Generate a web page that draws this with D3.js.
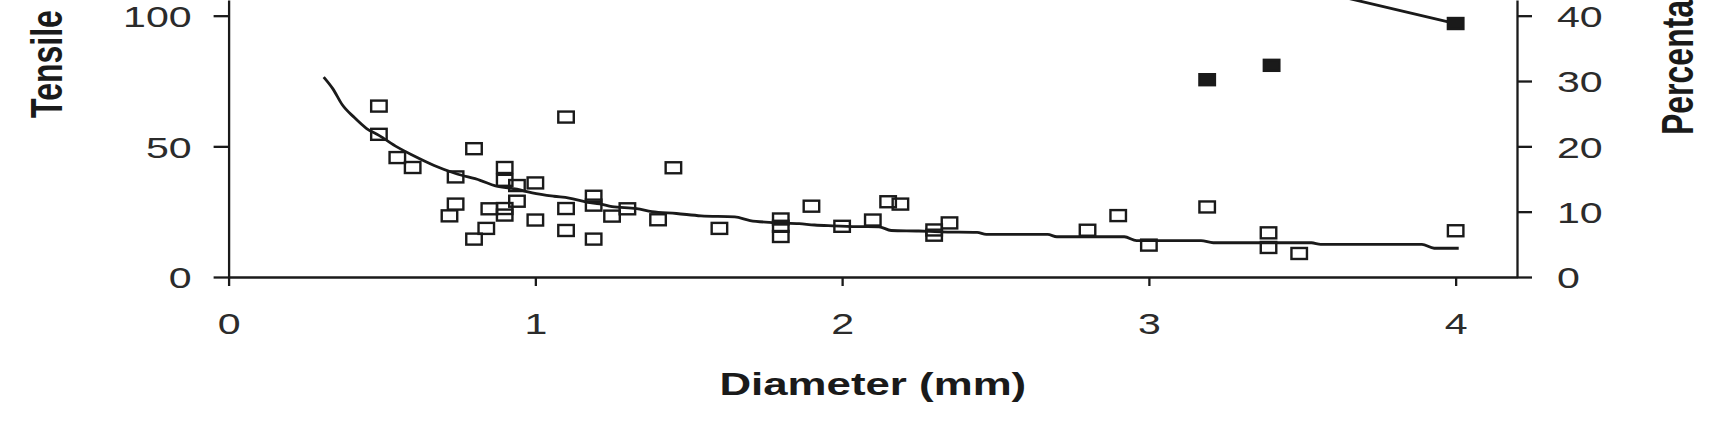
<!DOCTYPE html>
<html>
<head>
<meta charset="utf-8">
<script src="https://cdn.jsdelivr.net/npm/d3@7/dist/d3.min.js"></script>
<style>
  html, body { margin: 0; padding: 0; background: #fff; }
  svg { display: block; }
  text { font-family: "Liberation Sans", Arial, Helvetica, sans-serif; fill: #1a1a1a; }
</style>
</head>
<body>
<svg id="chart" width="1732" height="422"></svg>
<script>
// ---- data ----
const xTicks = [0, 1, 2, 3, 4];
const leftTicks = [0, 50, 100];
const rightTicks = [0, 10, 20, 30, 40];

// open squares: diameter (mm) vs tensile value (left axis)
const openD = [0.49, 0.49, 0.55, 0.60, 0.74, 0.74, 0.72, 0.80, 0.85, 0.84, 0.80,
  0.90, 0.90, 0.90, 0.90, 0.94, 0.94, 1.00, 1.00, 1.10, 1.10, 1.10, 1.19, 1.19, 1.19,
  1.25, 1.30, 1.40, 1.45, 1.60, 1.80, 1.80, 1.80, 1.90, 2.00, 2.10, 2.15, 2.19,
  2.30, 2.30, 2.35, 2.80, 2.90, 3.00, 3.19, 3.39, 3.39, 3.49, 4.00];
const openV = [65.4, 54.6, 45.7, 41.9, 38.3, 27.9, 23.4, 49.1, 26.1, 18.6, 14.5,
  41.9, 37.0, 26.2, 23.7, 35.0, 29.0, 36.0, 21.8, 61.2, 26.2, 17.8, 30.9, 27.5, 14.5,
  23.3, 26.1, 21.9, 41.8, 18.6, 22.2, 19.4, 15.5, 27.1, 19.4, 21.8, 28.8, 27.9,
  18.0, 16.0, 20.7, 17.9, 23.5, 12.2, 26.8, 16.9, 11.3, 9.0, 17.7];

// fitted tensile curve (left axis)
const curveD = [0.31, 0.34, 0.37, 0.41, 0.45, 0.49, 0.55, 0.60, 0.67, 0.74, 0.82, 0.87,
  0.94, 0.99, 1.06, 1.11, 1.17, 1.21, 1.25, 1.33, 1.38, 1.46, 1.54, 1.65, 1.70, 1.78,
  1.86, 1.91, 1.97, 2.05, 2.12, 2.16, 2.25, 2.32, 2.44, 2.47, 2.67, 2.70, 2.92, 2.96,
  3.17, 3.21, 3.53, 3.56, 3.89, 3.93, 4.01];
const curveV = [76.5, 72.0, 66.0, 61.0, 56.8, 54.2, 49.7, 46.6, 42.7, 39.6, 37.0, 34.9,
  33.6, 32.2, 30.9, 30.2, 28.6, 28.0, 26.9, 26.2, 25.0, 24.3, 23.4, 23.0, 21.6, 20.8,
  20.4, 19.9, 19.6, 19.3, 19.2, 17.8, 17.6, 17.3, 17.1, 16.3, 16.3, 15.4, 15.4, 13.9,
  13.9, 13.1, 13.1, 12.5, 12.5, 11.0, 11.0];

// filled squares: percentage (right axis)
const filledD = [3.19, 3.40, 4.00];
const filledP = [30.2, 32.4, 38.8];

// percentage fitted line (right axis), enters from above the picture
const pctLineD = [3.60, 4.00];
const pctLineP = [43.2, 38.8];

// ---- layout ----
const svg = d3.select("#chart");
const SX = 1.37;            // horizontal stretch of the picture
const plotLeft = 228.6, plotRight = 1517, plotBottom = 277, plotTop = 0;
const ink = "#1a1a1a";
const labelInk = "#2b2b2b";

const x = d3.scaleLinear().domain([0, 4.2]).range([plotLeft, plotRight]);
const yL = d3.scaleLinear().domain([0, 106]).range([plotBottom, plotTop]);
const yR = d3.scaleLinear().domain([0, 42.4]).range([plotBottom, plotTop]);

// axes
const gx = svg.append("g").attr("transform", `translate(0,${plotBottom})`)
  .call(d3.axisBottom(x).tickValues(xTicks).tickSize(9).tickSizeOuter(0).tickFormat(d3.format("d")));
const gl = svg.append("g").attr("transform", `translate(${plotLeft},0)`)
  .call(d3.axisLeft(yL).tickValues(leftTicks).tickSize(15).tickSizeOuter(0));
const gr = svg.append("g").attr("transform", `translate(${plotRight},0)`)
  .call(d3.axisRight(yR).tickValues(rightTicks).tickSize(15).tickSizeOuter(0));

[gx, gl, gr].forEach(g => {
  g.select(".domain").attr("stroke", ink).attr("stroke-width", 2.3);
  g.selectAll(".tick line").attr("stroke", ink).attr("stroke-width", 2.3);
  g.selectAll(".tick text").remove();
});

// tick labels (stretched horizontally like the picture)
const tickFont = 30;
gx.selectAll(".tick").append("text")
  .attr("transform", `translate(0,57) scale(${SX},1)`)
  .attr("text-anchor", "middle").attr("font-size", tickFont).style("fill", labelInk)
  .text(d => d);
gl.selectAll(".tick").append("text")
  .attr("transform", `translate(-37,0) scale(${SX},1)`)
  .attr("dy", "0.36em")
  .attr("text-anchor", "end").attr("font-size", tickFont).style("fill", labelInk)
  .text(d => d);
gr.selectAll(".tick").append("text")
  .attr("transform", `translate(40,0) scale(${SX},1)`)
  .attr("dy", "0.36em")
  .attr("text-anchor", "start").attr("font-size", tickFont).style("fill", labelInk)
  .text(d => d);

// axis titles
svg.append("text")
  .attr("transform", `translate(${(plotLeft + plotRight) / 2},395) scale(${SX},1)`)
  .attr("text-anchor", "middle").attr("font-size", 32).attr("font-weight", "bold")
  .text("Diameter (mm)");
svg.append("text")
  .attr("transform", `translate(62,118) scale(${SX},1) rotate(-90)`)
  .attr("text-anchor", "start").attr("font-size", 32).attr("font-weight", "bold")
  .text("Tensile");
svg.append("text")
  .attr("transform", `translate(1693,135) scale(${SX},1) rotate(-90)`)
  .attr("text-anchor", "start").attr("font-size", 32).attr("font-weight", "bold")
  .text("Percentage");

// fitted tensile curve
const curvePts = curveD.map((d, i) => [d, curveV[i]]);
svg.append("path")
  .datum(curvePts)
  .attr("fill", "none").attr("stroke", ink).attr("stroke-width", 2.8)
  .attr("stroke-linejoin", "round")
  .attr("d", d3.line().x(d => x(d[0])).y(d => yL(d[1])).curve(d3.curveMonotoneX));

// percentage line
const pctPts = pctLineD.map((d, i) => [d, pctLineP[i]]);
svg.append("path")
  .datum(pctPts)
  .attr("fill", "none").attr("stroke", ink).attr("stroke-width", 2.8)
  .attr("d", d3.line().x(d => x(d[0])).y(d => yR(d[1])));

// open squares
const mw = 15.5, mh = 11;
const openPts = openD.map((d, i) => [d, openV[i]]);
svg.append("g").selectAll("rect").data(openPts).join("rect")
  .attr("x", d => x(d[0]) - mw / 2).attr("y", d => yL(d[1]) - mh / 2)
  .attr("width", mw).attr("height", mh)
  .attr("fill", "none").attr("stroke", ink).attr("stroke-width", 2.4);

// filled squares
const filledPts = filledD.map((d, i) => [d, filledP[i]]);
svg.append("g").selectAll("rect").data(filledPts).join("rect")
  .attr("x", d => x(d[0]) - mw / 2).attr("y", d => yR(d[1]) - mh / 2)
  .attr("width", mw).attr("height", mh)
  .attr("fill", ink).attr("stroke", ink).attr("stroke-width", 2.4);
</script>
</body>
</html>
